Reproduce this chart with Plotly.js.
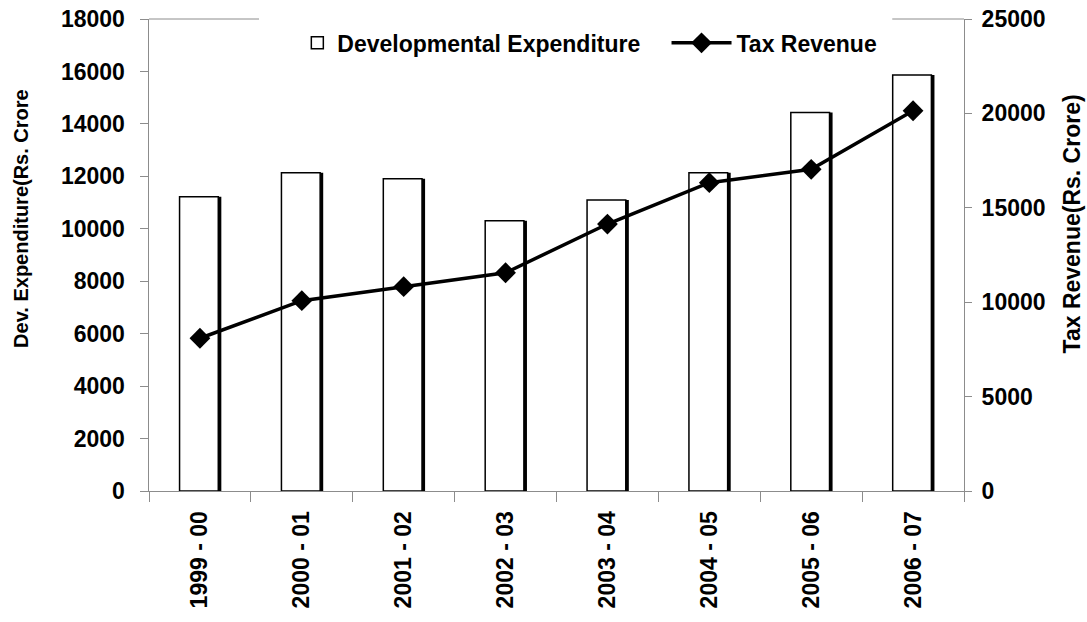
<!DOCTYPE html>
<html>
<head>
<meta charset="utf-8">
<script src="https://cdn.plot.ly/plotly-3.0.1.min.js"></script>
<style>
  html, body { margin: 0; padding: 0; background: #fff; }
  #chart { width: 1087px; height: 622px; }
</style>
</head>
<body>
<div id="chart"></div>
<script>
// values
const years = ['1999 - 00', '2000 - 01', '2001 - 02', '2002 - 03', '2003 - 04', '2004 - 05', '2005 - 06', '2006 - 07'];
const devExpenditure = [11220, 12140, 11910, 10310, 11100, 12140, 14430, 15860];
const taxRevenue = [8090, 10080, 10820, 11560, 14140, 16330, 17040, 20140];

const FONT = 'Arial, "Liberation Sans", sans-serif';
const AXIS_GREY = '#8c8c8c';

// black copy nudged right gives the bars their heavy right edge
const shadow = {
    x: years,
    y: devExpenditure,
    type: 'bar',
    width: 0.38,
    offset: -0.17,
    marker: { color: '#000' },
    showlegend: false,
    hoverinfo: 'skip'
};

const bars = {
    x: years,
    y: devExpenditure,
    type: 'bar',
    name: 'Developmental Expenditure',
    width: 0.38,
    offset: -0.2,
    legend: 'legend',
    marker: { color: '#fff', line: { color: '#000', width: 1.5 } }
};

const tax = {
    x: years,
    y: taxRevenue,
    type: 'scatter',
    mode: 'lines+markers',
    name: 'Tax Revenue',
    yaxis: 'y2',
    legend: 'legend2',
    line: { color: '#000', width: 3.5 },
    marker: { symbol: 'diamond', size: 16, color: '#000' }
};

const tickFont = { family: FONT, size: 23, weight: 'bold' };
const legendFont = { family: FONT, size: 23, weight: 'bold' };

const layout = {
    width: 1087,
    height: 622,
    margin: { l: 149, r: 123, t: 19, b: 131 },
    paper_bgcolor: '#fff',
    plot_bgcolor: '#fff',
    font: { family: FONT, color: '#000' },
    barmode: 'overlay',
    showlegend: true,
    legend: {
        orientation: 'h',
        x: 0.182, xanchor: 'left',
        y: 0.995, yanchor: 'top',
        bgcolor: 'rgba(0,0,0,0)',
        font: legendFont
    },
    legend2: {
        orientation: 'h',
        x: 0.635, xanchor: 'left',
        y: 0.995, yanchor: 'top',
        bgcolor: 'rgba(0,0,0,0)',
        itemwidth: 60,
        font: legendFont
    },
    xaxis: {
        type: 'category',
        range: [-0.5, 7.5],
        showline: true,
        linecolor: AXIS_GREY,
        linewidth: 1,
        ticks: 'outside',
        tickson: 'boundaries',
        ticklen: 10,
        tickcolor: AXIS_GREY,
        tickangle: -90,
        ticklabelstandoff: 10,
        tickfont: tickFont,
        showgrid: false,
        zeroline: false
    },
    yaxis: {
        range: [0, 18000],
        dtick: 2000,
        tickformat: 'd',
        showline: true,
        linecolor: AXIS_GREY,
        linewidth: 1.5,
        ticks: 'outside',
        ticklen: 8,
        tickcolor: AXIS_GREY,
        ticklabelstandoff: 10,
        tickfont: tickFont,
        showgrid: false,
        zeroline: false
    },
    yaxis2: {
        overlaying: 'y',
        side: 'right',
        range: [0, 25000],
        dtick: 5000,
        tickformat: 'd',
        showline: true,
        linecolor: AXIS_GREY,
        linewidth: 1,
        ticks: 'outside',
        ticklen: 7,
        tickcolor: AXIS_GREY,
        ticklabelstandoff: 5,
        tickfont: tickFont,
        showgrid: false,
        zeroline: false
    },
    shapes: [
        { type: 'line', xref: 'paper', yref: 'paper', x0: 0, x1: 0.135, y0: 1, y1: 1,
          line: { color: AXIS_GREY, width: 1 } },
        { type: 'line', xref: 'paper', yref: 'paper', x0: 0.912, x1: 1, y0: 1, y1: 1,
          line: { color: AXIS_GREY, width: 1 } }
    ],
    annotations: [
        { text: 'Dev. Expenditure(Rs. Crore', xref: 'paper', yref: 'paper',
          x: -0.158, y: 0.577, xanchor: 'center', yanchor: 'middle', textangle: -90,
          showarrow: false, font: { family: FONT, size: 20, weight: 'bold' } },
        { text: 'Tax Revenue(Rs. Crore)', xref: 'paper', yref: 'paper',
          x: 1.132, y: 0.566, xanchor: 'center', yanchor: 'middle', textangle: -90,
          showarrow: false, font: { family: FONT, size: 23, weight: 'bold' } }
    ]
};

Plotly.newPlot('chart', [shadow, bars, tax], layout, { displayModeBar: false, staticPlot: true });
</script>
</body>
</html>
